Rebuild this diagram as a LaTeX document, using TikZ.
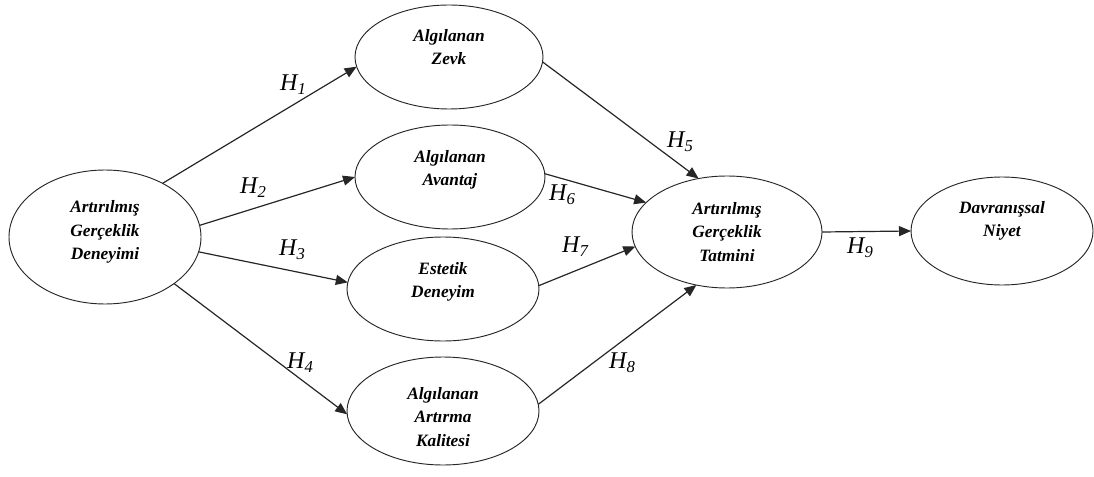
\documentclass[tikz,border=0pt]{standalone}
\usepackage{fontspec}
\setmainfont{Liberation Serif}
\usetikzlibrary{shapes.geometric,arrows.meta}
\tikzset{
  ell/.style={ellipse,draw=black!85,line width=0.7pt,inner sep=0pt,outer sep=0pt,align=center,
    font=\fontsize{13}{17.5}\selectfont\bfseries\itshape},
  conn/.style={draw=black!85,line width=0.9pt,-{Triangle[length=9pt,width=7.5pt]}},
  hlab/.style={font=\fontsize{18}{18}\selectfont\itshape,inner sep=0pt}
}
\newcommand{\hyp}[1]{H\raisebox{-0.35ex}{\fontsize{12.5}{12.5}\selectfont #1}}
\newcommand{\dstrut}[1]{\rule[-#1]{0pt}{#1}}
\newcommand{\hstrut}[1]{\rule{0pt}{#1}}
\begin{document}
\begin{tikzpicture}[x=0.75pt,y=-0.75pt]
\useasboundingbox (0,0) rectangle (1094,477);
\node[ell,minimum width=144pt,minimum height=100.5pt] (D) at (105,237) {Artırılmış\\Gerçeklik\\Deneyimi\dstrut{10.4pt}};
\node[ell,minimum width=141pt,minimum height=78pt] (Z) at (449,57) {Algılanan\\Zevk\dstrut{15pt}};
\node[ell,minimum width=142.5pt,minimum height=78pt] (A) at (450,177) {Algılanan\\Avantaj\dstrut{13.4pt}};
\node[ell,minimum width=144pt,minimum height=78pt] (E) at (443,289) {Estetik\\Deneyim\dstrut{13.4pt}};
\node[ell,minimum width=144pt,minimum height=81pt] (K) at (443,411) {\hstrut{17.9pt}Algılanan\\Artırma\\Kalitesi};
\node[ell,minimum width=142.5pt,minimum height=84pt] (T) at (727,232) {Artırılmış\\Gerçeklik\\Tatmini};
\node[ell,minimum width=136.5pt,minimum height=81pt] (N) at (1002,231) {Davranışsal\\Niyet\dstrut{17.9pt}};

\draw[conn] (D.43.5) -- (Z.186.6);
\draw[conn] (D.7.2) -- (A.180);
\draw[conn] (D.-9.2) -- (E.176.4);
\draw[conn] (D.-34.5) -- (K.182.4);
\draw[conn] (Z.-3.7) -- (T.118.6);
\draw[conn] (A.2.4) -- (T.160.9);
\draw[conn] (E.2.4) -- (T.189.5);
\draw[conn] (K.4) -- (T.240.3);
\draw[conn] (T.east) -- (N.west);

\node[hlab] (h1) at (293,85) {\hyp{1}};
\node[hlab] (h2) at (253,188) {\hyp{2}};
\node[hlab] (h3) at (292,250) {\hyp{3}};
\node[hlab] (h4) at (300,363) {\hyp{4}};
\node[hlab] (h5) at (680,142) {\hyp{5}};
\node[hlab] (h6) at (562,195) {\hyp{6}};
\node[hlab] (h7) at (575,247) {\hyp{7}};
\node[hlab] (h8) at (622,363) {\hyp{8}};
\node[hlab] (h9) at (860,248) {\hyp{9}};
\end{tikzpicture}
\end{document}
